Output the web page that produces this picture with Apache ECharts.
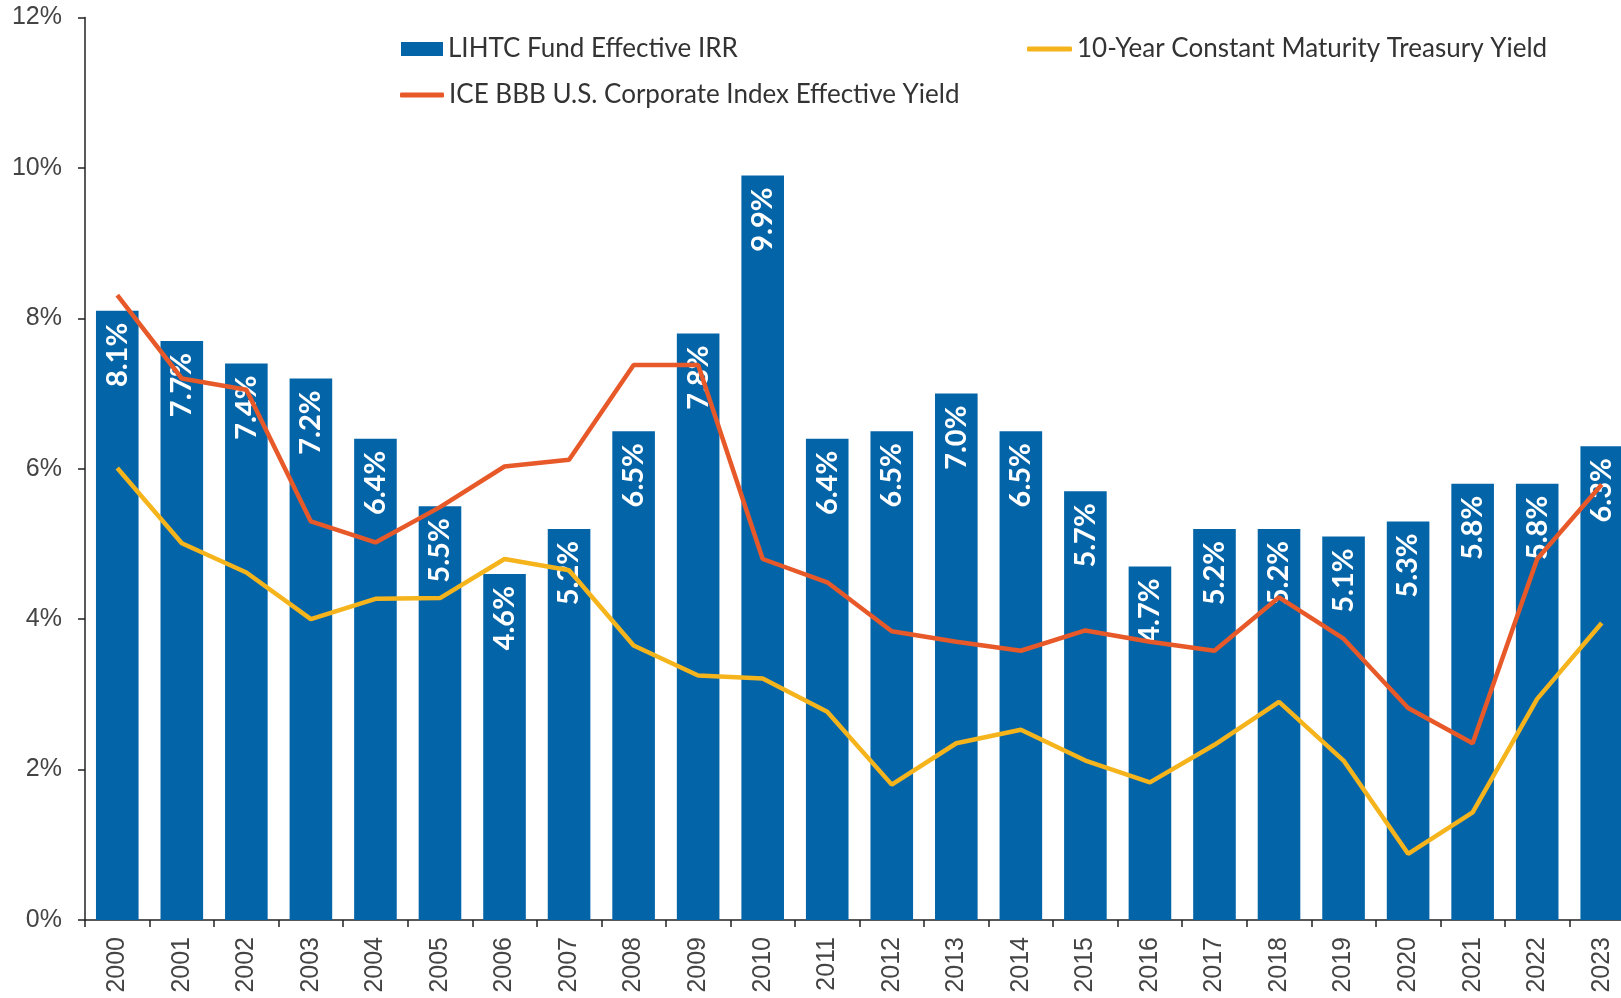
<!DOCTYPE html>
<html>
<head>
<meta charset="utf-8">
<script src="https://cdn.jsdelivr.net/npm/echarts@6/dist/echarts.min.js"></script>
<style>
  html, body { margin: 0; padding: 0; background: #fff; overflow: hidden; }
  /* wider than the window: the 2023 bar is cut off at the right edge in the original */
  #chart { width: 1634px; height: 998px; }
</style>
</head>
<body>
<div id="chart"></div>
<script>
var years = ['2000', '2001', '2002', '2003', '2004', '2005', '2006', '2007', '2008', '2009', '2010', '2011',
  '2012', '2013', '2014', '2015', '2016', '2017', '2018', '2019', '2020', '2021', '2022', '2023'];
var lihtcIrr = [8.1, 7.7, 7.4, 7.2, 6.4, 5.5, 4.6, 5.2, 6.5, 7.8, 9.9, 6.4,
  6.5, 7.0, 6.5, 5.7, 4.7, 5.2, 5.2, 5.1, 5.3, 5.8, 5.8, 6.3];
var treasury10y = [6.01, 5.01, 4.62, 4.00, 4.27, 4.28, 4.80, 4.65, 3.65, 3.25, 3.21, 2.77,
  1.80, 2.35, 2.53, 2.12, 1.83, 2.33, 2.90, 2.12, 0.88, 1.43, 2.94, 3.95];
var iceBbb = [8.31, 7.20, 7.05, 5.30, 5.02, 5.49, 6.03, 6.12, 7.38, 7.38, 4.80, 4.49,
  3.84, 3.70, 3.58, 3.85, 3.70, 3.58, 4.29, 3.74, 2.82, 2.35, 4.80, 5.79];

var barName = 'LIHTC Fund Effective IRR';
var tsyName = '10-Year Constant Maturity Treasury Yield';
var bbbName = 'ICE BBB U.S. Corporate Index Effective Yield';

var blue = '#0464a8';
var orange = '#e8592a';
var yellow = '#f5b41c';

var legendText = { fontFamily: 'Lato', fontSize: 26, color: '#333' };

var option = {
  animation: false,
  backgroundColor: '#fff',
  grid: { left: 85, top: 17.5, right: 0, bottom: 78, containLabel: false },
  legend: [
    { data: [barName], left: 396, top: 31, icon: 'rect', itemWidth: 42, itemHeight: 14, textStyle: legendText, selectedMode: false },
    { data: [bbbName], left: 395, top: 77, icon: 'roundRect', itemWidth: 44, itemHeight: 5, textStyle: legendText, selectedMode: false },
    { data: [tsyName], left: 1022, top: 31, icon: 'roundRect', itemWidth: 45, itemHeight: 5, textStyle: legendText, selectedMode: false }
  ],
  xAxis: {
    type: 'category',
    data: years,
    axisLine: { lineStyle: { color: '#222', width: 1.5 } },
    axisTick: { show: true, length: 7, lineStyle: { color: '#222', width: 1.5 } },
    axisLabel: { rotate: 90, margin: 17, fontFamily: 'Liberation Sans', fontSize: 25, color: '#444' }
  },
  yAxis: {
    type: 'value',
    min: 0,
    max: 12,
    interval: 2,
    splitLine: { show: false },
    axisLine: { show: true, lineStyle: { color: '#222', width: 1.5 } },
    axisTick: { show: true, length: 7, lineStyle: { color: '#222', width: 1.5 } },
    axisLabel: { formatter: '{value}%', margin: 23, fontFamily: 'Liberation Sans', fontSize: 25, color: '#444' }
  },
  series: [
    {
      name: barName,
      type: 'bar',
      data: lihtcIrr,
      barCategoryGap: '34%',
      itemStyle: { color: blue },
      label: {
        show: true,
        position: 'insideTop',
        distance: 12,
        rotate: 90,
        align: 'right',
        verticalAlign: 'middle',
        formatter: function (p) { return p.value.toFixed(1) + '%'; },
        fontFamily: 'Lato',
        fontWeight: 'bold',
        fontSize: 29,
        color: '#fff'
      }
    },
    {
      name: tsyName,
      type: 'line',
      data: treasury10y,
      z: 3,
      symbol: 'none',
      lineStyle: { color: yellow, width: 4.5 },
      itemStyle: { color: yellow }
    },
    {
      name: bbbName,
      type: 'line',
      data: iceBbb,
      z: 4,
      symbol: 'none',
      lineStyle: { color: orange, width: 4.5 },
      itemStyle: { color: orange }
    }
  ]
};

var chart = echarts.init(document.getElementById('chart'));
chart.setOption(option);
</script>
</body>
</html>
